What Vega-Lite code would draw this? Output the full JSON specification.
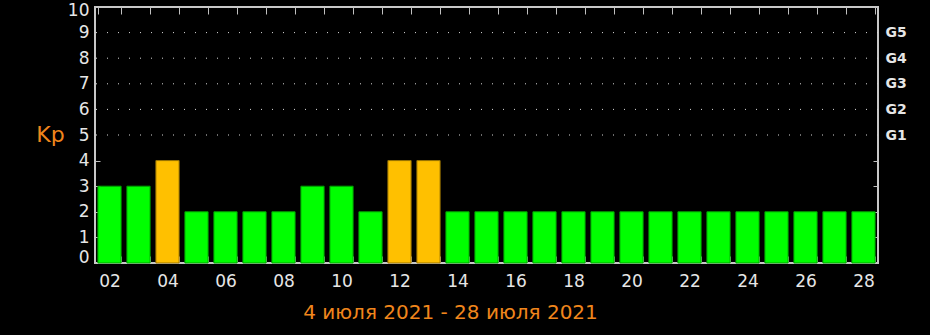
{
  "$schema": "https://vega.github.io/schema/vega-lite/v6.json",
  "width": 783,
  "height": 256,
  "autosize": "none",
  "padding": {"left": 95, "top": 7, "right": 52, "bottom": 72},
  "background": "black",
  "config": {
    "view": {"stroke": "#c8c8c8", "strokeWidth": 2},
    "axis": {"domain": false, "grid": false, "tickColor": "#c0c0c0", "tickWidth": 1, "labelColor": "#e6e6e6", "labelFont": "DejaVu Sans", "titleFont": "DejaVu Sans", "labelOverlap": false}
  },
  "datasets": {
    "kp": [
      {"day": "02", "kp": 3}, {"day": "03", "kp": 3}, {"day": "04", "kp": 4}, {"day": "05", "kp": 2},
      {"day": "06", "kp": 2}, {"day": "07", "kp": 2}, {"day": "08", "kp": 2}, {"day": "09", "kp": 3},
      {"day": "10", "kp": 3}, {"day": "11", "kp": 2}, {"day": "12", "kp": 4}, {"day": "13", "kp": 4},
      {"day": "14", "kp": 2}, {"day": "15", "kp": 2}, {"day": "16", "kp": 2}, {"day": "17", "kp": 2},
      {"day": "18", "kp": 2}, {"day": "19", "kp": 2}, {"day": "20", "kp": 2}, {"day": "21", "kp": 2},
      {"day": "22", "kp": 2}, {"day": "23", "kp": 2}, {"day": "24", "kp": 2}, {"day": "25", "kp": 2},
      {"day": "26", "kp": 2}, {"day": "27", "kp": 2}, {"day": "28", "kp": 2}
    ],
    "grid": [{"g": 5}, {"g": 6}, {"g": 7}, {"g": 8}, {"g": 9}]
  },
  "layer": [
    {
      "data": {"name": "grid"},
      "mark": {"type": "rule", "strokeDash": [1, 10], "color": "#d8d8d8", "strokeWidth": 1},
      "encoding": {
        "y": {"field": "g", "type": "quantitative", "scale": {"domain": [0, 10], "nice": false, "zero": true}, "axis": null}
      }
    },
    {
      "data": {"name": "kp"},
      "mark": {"type": "bar", "strokeWidth": 1},
      "encoding": {
        "x": {
          "field": "day", "type": "ordinal",
          "scale": {"paddingInner": 0.2, "paddingOuter": 0.1},
          "axis": {
            "orient": "bottom", "tickBand": "extent", "tickSize": -7,
            "labelExpr": "toNumber(datum.value) % 2 == 0 ? datum.value : ''",
            "labelAngle": 0, "labelFontSize": 17, "labelPadding": 17,
            "title": "4 июля 2021 - 28 июля 2021", "titleColor": "#f0861c", "titleFontSize": 20,
            "titleFontWeight": "normal", "titleX": 355, "titleY": 49, "titleBaseline": "middle", "titleAlign": "center"
          }
        },
        "y": {
          "field": "kp", "type": "quantitative",
          "scale": {"domain": [0, 10], "nice": false},
          "axis": {
            "orient": "left", "values": [0, 1, 2, 3, 4, 5, 6, 7, 8, 9, 10], "tickSize": -5,
            "tickOpacity": {"condition": {"test": "datum.value >= 5 || datum.value == 0", "value": 0}, "value": 1},
            "labelFontSize": 17, "labelPadding": 11, "labelFlush": false,
            "labelOffset": {"condition": [{"test": "datum.value == 0", "value": -6}, {"test": "datum.value == 10", "value": 3}], "value": 0},
            "title": "Kp", "titleAngle": 0, "titleX": -45, "titleY": 134, "titleBaseline": "alphabetic",
            "titleAlign": "center", "titleColor": "#f0861c", "titleFontSize": 22, "titleFontWeight": "normal"
          }
        },
        "fill": {"condition": {"test": "datum.kp >= 4", "value": "#ffc000"}, "value": "#00ff00"},
        "stroke": {"condition": {"test": "datum.kp >= 4", "value": "#9a7400"}, "value": "#00a000"}
      }
    },
    {
      "data": {"name": "kp"},
      "mark": {"type": "bar", "opacity": 0},
      "encoding": {
        "x": {
          "field": "day", "type": "ordinal",
          "axis": {"orient": "top", "tickBand": "extent", "tickSize": -7, "labels": false, "title": null}
        },
        "y": {
          "field": "kp", "type": "quantitative",
          "axis": {
            "orient": "right", "values": [1, 2, 3, 4, 5, 6, 7, 8, 9], "tickSize": -5,
            "tickOpacity": {"condition": {"test": "datum.value >= 5", "value": 0}, "value": 1},
            "labelExpr": "datum.value >= 5 ? 'G' + (datum.value - 4) : ''",
            "labelFontSize": 14, "labelFontWeight": "bold", "labelPadding": 12, "title": null
          }
        }
      }
    }
  ],
  "resolve": {"axis": {"x": "independent", "y": "independent"}}
}
